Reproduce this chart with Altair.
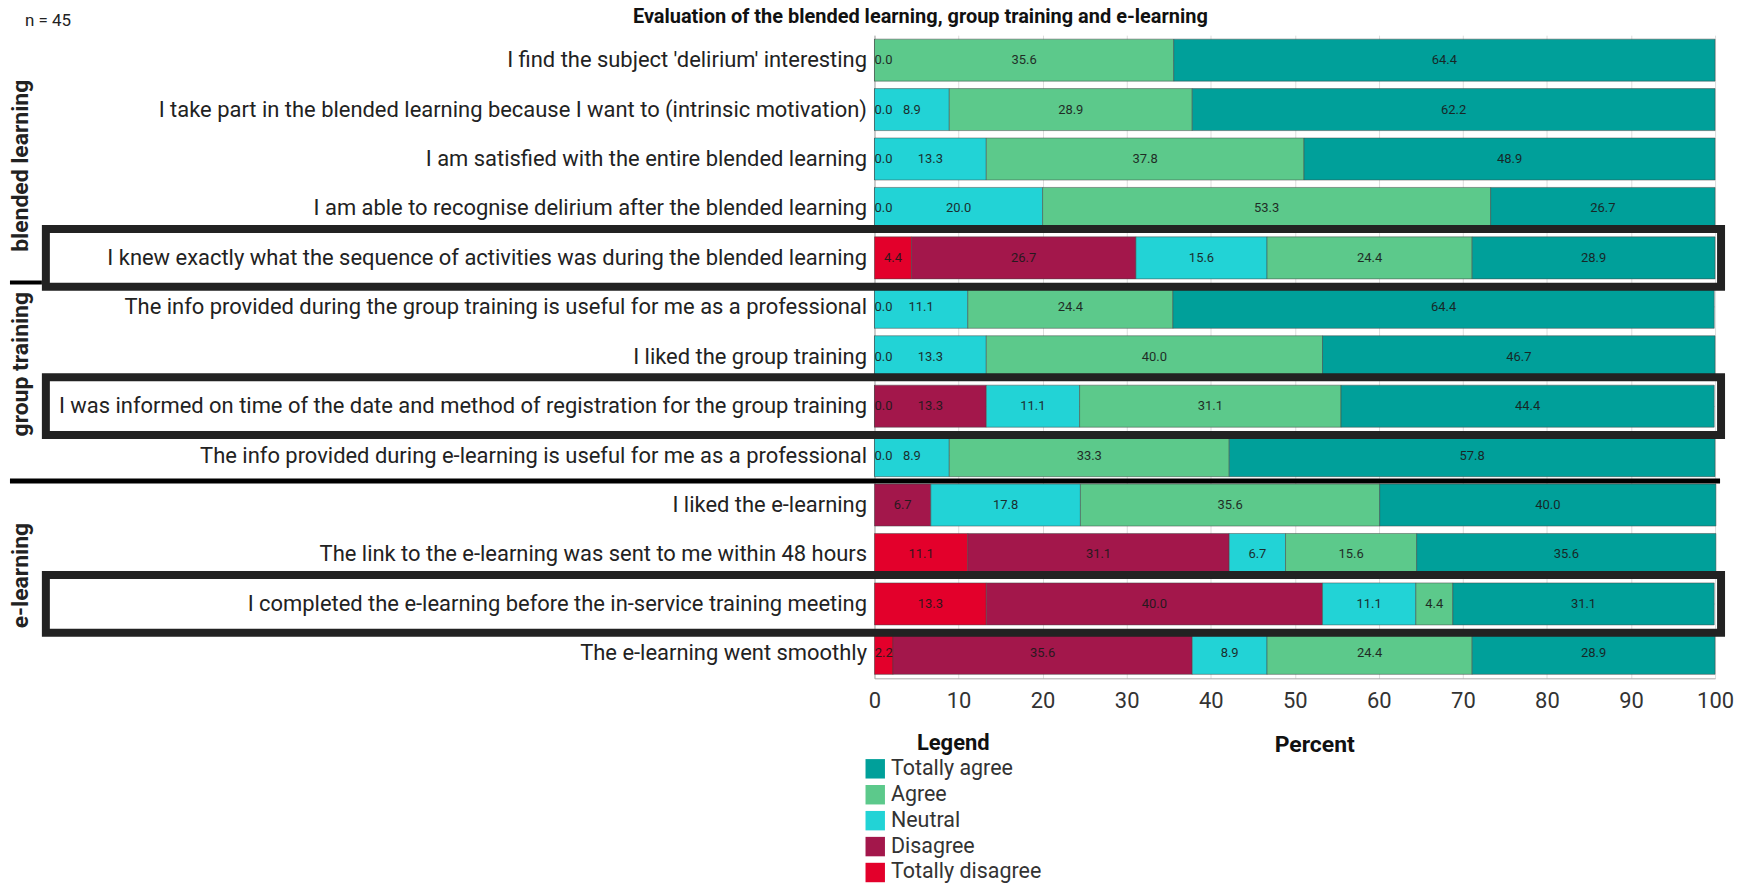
import altair as alt
import pandas as pd

# Survey statements, top to bottom
items = [
    "I find the subject 'delirium' interesting",
    "I take part in the blended learning because I want to (intrinsic motivation)",
    "I am satisfied with the entire blended learning",
    "I am able to recognise delirium after the blended learning",
    "I knew exactly what the sequence of activities was during the blended learning",
    "The info provided during the group training is useful for me as a professional",
    "I liked the group training",
    "I was informed on time of the date and method of registration for the group training",
    "The info provided during e-learning is useful for me as a professional",
    "I liked the e-learning",
    "The link to the e-learning was sent to me within 48 hours",
    "I completed the e-learning before the in-service training meeting",
    "The e-learning went smoothly",
]

# Answer categories (legend order) and their colours
categories = ["Totally agree", "Agree", "Neutral", "Disagree", "Totally disagree"]
colors = ["#00A09A", "#5CC98B", "#22D3D6", "#A3174B", "#E3002B"]

# Percentages per answer category (None = category not reported)
totally_disagree = [None, None, None, None, 4.4, None, None, 0.0, None, None, 11.1, 13.3, 2.2]
disagree = [0.0, 0.0, 0.0, 0.0, 26.7, 0.0, 0.0, 13.3, 0.0, 6.7, 31.1, 40.0, 35.6]
neutral = [None, 8.9, 13.3, 20.0, 15.6, 11.1, 13.3, 11.1, 8.9, 17.8, 6.7, 11.1, 8.9]
agree = [35.6, 28.9, 37.8, 53.3, 24.4, 24.4, 40.0, 31.1, 33.3, 35.6, 15.6, 4.4, 24.4]
totally_agree = [64.4, 62.2, 48.9, 26.7, 28.9, 64.4, 46.7, 44.4, 57.8, 40.0, 35.6, 31.1, 28.9]

# Statements framed with a box
boxed = [
    "I knew exactly what the sequence of activities was during the blended learning",
    "I was informed on time of the date and method of registration for the group training",
    "I completed the e-learning before the in-service training meeting",
]

title_text = "Evaluation of the blended learning, group training and e-learning"
n_text = "n = 45"
group_names = ["blended learning", "group training", "e-learning"]

series = {
    "Totally disagree": totally_disagree,
    "Disagree": disagree,
    "Neutral": neutral,
    "Agree": agree,
    "Totally agree": totally_agree,
}
rows = []
for rank, (cat, vals) in enumerate(series.items()):
    for item, v in zip(items, vals):
        if v is not None:
            rows.append({"item": item, "answer": cat, "value": v, "rank": rank})
df = pd.DataFrame(rows)

W, H = 843, 645
FONT = "Roboto"

y_enc = alt.Y(
    "item:N",
    sort=items,
    scale=alt.Scale(paddingInner=0.15, paddingOuter=0.08),
    axis=alt.Axis(
        title=None, labelFontSize=22, labelFont=FONT, labelColor="#222",
        labelLimit=0, ticks=False, labelPadding=8, domainColor="#aaa",
    ),
)

base = alt.Chart(df).transform_stack(
    stack="value", groupby=["item"], as_=["v0", "v1"],
    sort=[alt.SortField("rank", order="ascending")],
).transform_calculate(mid="(datum.v0 + datum.v1) / 2")

bars = base.mark_bar(stroke="#444", strokeWidth=0.7, strokeOpacity=0.7).encode(
    x=alt.X(
        "v0:Q",
        scale=alt.Scale(domain=[0, 100], nice=False),
        axis=alt.Axis(
            values=list(range(0, 101, 10)), labelFontSize=22, labelFont=FONT,
            labelColor="#333", ticks=False, labelPadding=12, labelFlush=False,
            domainColor="#aaa", gridColor="#ddd", title="Percent", titleFont=FONT,
            titleFontSize=23, titleFontWeight="bold", titleColor="#111",
            titleX=441, titleY=55, titleBaseline="top", titleAlign="center",
        ),
    ),
    x2="v1:Q",
    y=y_enc,
    color=alt.Color(
        "answer:N",
        scale=alt.Scale(domain=categories, range=colors),
        legend=alt.Legend(
            title="Legend", orient="none", legendX=-10, legendY=700,
            titleFont=FONT, titleFontSize=22, titleFontWeight="bold",
            titleColor="#111", titleAnchor="middle", titleAlign="center",
            titlePadding=3, labelFont=FONT, labelFontSize=21.5, labelColor="#333",
            symbolType="square", symbolSize=380, symbolStrokeWidth=0,
            symbolOpacity=1, rowPadding=3, labelOffset=5, padding=0,
        ),
    ),
)

label_style = dict(font=FONT, fontSize=13, color="#1a1a1a", opacity=0.9, baseline="middle")

labels = base.transform_filter("datum.value > 0").mark_text(align="center", **label_style).encode(
    x="mid:Q", y=alt.Y("item:N", sort=items), text=alt.Text("value:Q", format=".1f"),
)
zero_labels = base.transform_filter("datum.value == 0").mark_text(align="left", **label_style).encode(
    x="v0:Q", y=alt.Y("item:N", sort=items), text=alt.Text("value:Q", format=".1f"),
)

boxes = alt.Chart(pd.DataFrame({"item": boxed})).mark_bar(
    filled=False, stroke="#222", strokeWidth=8, height=58,
).encode(x=alt.value(-831), x2=alt.value(849), y=alt.Y("item:N", sort=items))

sep_short = alt.Chart(pd.DataFrame({"k": [0]})).mark_rule(color="#000", strokeWidth=4).encode(
    x=alt.value(-867), x2=alt.value(-835), y=alt.value(248)
)
sep_long = alt.Chart(pd.DataFrame({"k": [0]})).mark_rule(color="#000", strokeWidth=5).encode(
    x=alt.value(-867), x2=alt.value(848), y=alt.value(447)
)

def group_label(text, yc):
    return alt.Chart(pd.DataFrame({"t": [text]})).mark_text(
        angle=270, font=FONT, fontSize=23, fontWeight="bold", color="#222",
        align="center", baseline="alphabetic",
    ).encode(text="t:N", x=alt.value(-849), y=alt.value(yc))

groups = group_label(group_names[0], 131) + group_label(group_names[1], 330) + group_label(group_names[2], 542)

n_label = alt.Chart(pd.DataFrame({"t": [n_text]})).mark_text(
    font=FONT, fontSize=17, color="#222", align="left", baseline="alphabetic",
).encode(text="t:N", x=alt.value(-852), y=alt.value(-9))

title_mark = alt.Chart(pd.DataFrame({"t": [title_text]})).mark_text(
    font=FONT, fontSize=20, fontWeight="bold", color="#111", align="center", baseline="alphabetic",
).encode(text="t:N", x=alt.value(46), y=alt.value(-12))

chart = alt.layer(
    bars, labels, zero_labels, boxes, sep_short, sep_long, groups, n_label, title_mark
).properties(
    width=W, height=H,
    padding={"left": 7, "top": 6, "right": 5, "bottom": 0},
).configure_view(stroke=None).configure_axis(grid=True)

chart.save("out.html", embed_options={"renderer": "svg", "actions": False})
